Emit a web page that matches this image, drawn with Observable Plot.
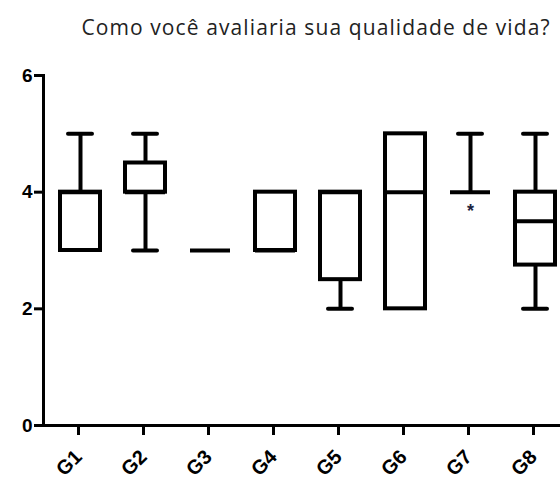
<!DOCTYPE html>
<html><head><meta charset="utf-8">
<script src="https://cdn.jsdelivr.net/npm/d3@7"></script>
<script src="https://cdn.jsdelivr.net/npm/@observablehq/plot@0.6"></script>
<style>
body{margin:0;background:#fff;width:560px;height:483px;overflow:hidden}
#title{height:50px;position:relative;font-family:"Open Sans",sans-serif;font-size:21px;letter-spacing:1.1px;color:#222}
#title span{position:absolute;left:316px;top:13px;line-height:28px;transform:translateX(-50%);white-space:nowrap}
</style></head>
<body>
<div id="title"><span>Como você avaliaria sua qualidade de vida?</span></div>
<div id="chart"></div>
<script>
const groups = ["G1","G2","G3","G4","G5","G6","G7","G8"];
const mins    = [3, 3,   3, 3, 2,   2, 4, 2];
const q1s     = [3, 4,   3, 3, 2.5, 2, 4, 2.75];
const medians = [4, 4,   3, 3, 4,   4, 4, 3.5];
const q3s     = [4, 4.5, 3, 4, 4,   5, 4, 4];
const maxs    = [5, 5,   3, 4, 4,   5, 5, 5];
const yTicks  = [0, 2, 4, 6];
const outliers = [{g: "G7", v: 3.75, label: "*"}];

const data = groups.map((g, i) => ({g, min: mins[i], q1: q1s[i], med: medians[i], q3: q3s[i], max: maxs[i]}));

const chart = Plot.plot({
  width: 560, height: 433,
  marginTop: 25, marginBottom: 58, marginLeft: 43, marginRight: 0,
  style: {fontFamily: "'Liberation Sans', Arial, sans-serif", fontWeight: "bold", background: "#fff", color: "#000"},
  x: {type: "band", domain: groups, range: [32, 582.3], padding: 0.388, label: null},
  y: {domain: [0, 6], label: null},
  marks: [
    Plot.ruleX(data.filter(d => d.max > d.q3), {x: "g", y1: "q3", y2: "max", stroke: "#000", strokeWidth: 4}),
    Plot.ruleX(data.filter(d => d.min < d.q1), {x: "g", y1: "min", y2: "q1", stroke: "#000", strokeWidth: 4}),
    Plot.tickY(data.filter(d => d.max > d.q3), {x: "g", y: "max", stroke: "#000", strokeWidth: 4, inset: 8, strokeLinecap: "round"}),
    Plot.tickY(data.filter(d => d.min < d.q1), {x: "g", y: "min", stroke: "#000", strokeWidth: 4, inset: 8, strokeLinecap: "round"}),
    Plot.barY(data, {x: "g", y1: "q1", y2: "q3", fill: "#fff", stroke: "#000", strokeWidth: 4}),
    Plot.tickY(data, {x: "g", y: "med", stroke: "#000", strokeWidth: 4}),
    Plot.text(outliers, {x: "g", y: "v", text: "label", fontSize: 18, fill: "#1c2340", dy: 4}),
    Plot.frame({anchor: "left", stroke: "#000", strokeWidth: 3}),
    Plot.axisY({ticks: yTicks, tickFormat: "d", tickSize: 9, tickPadding: 2, strokeWidth: 3, fontSize: 19, fontWeight: "bold", label: null}),
    Plot.axisX({tickSize: 10, tickRotate: -45, strokeWidth: 3, fontSize: 20, fontWeight: "bold", tickPadding: 18, dx: -2, label: null}),
    Plot.ruleY([0], {stroke: "#000", strokeWidth: 3})
  ]
});
document.getElementById("chart").appendChild(chart);
</script>
</body></html>
